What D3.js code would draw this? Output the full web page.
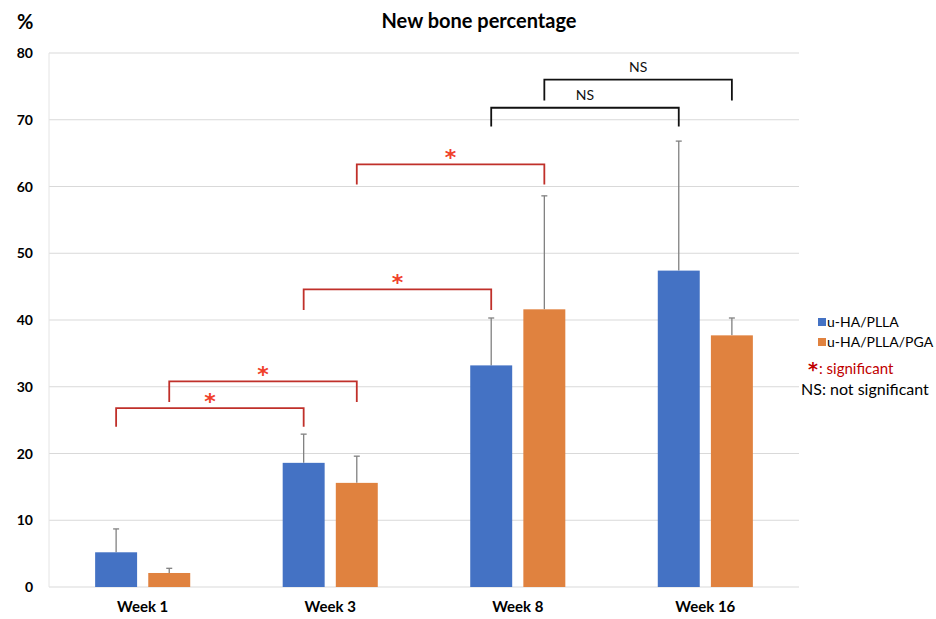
<!DOCTYPE html>
<html>
<head>
<meta charset="utf-8">
<script src="https://cdn.jsdelivr.net/npm/d3@7"></script>
<style>
  body { margin: 0; background: #fff; }
  svg { display: block; font-family: Lato, "Open Sans", sans-serif; }
</style>
</head>
<body>
<svg id="chart" width="936" height="619"></svg>
<script>
// data
const weeks = ["Week 1", "Week 3", "Week 8", "Week 16"]
const groups = ["u-HA/PLLA", "u-HA/PLLA/PGA"]
const plla = [5.2, 18.6, 33.2, 47.4]
const pllaErr = [8.7, 22.9, 40.3, 66.8]   // top of error bar
const pga = [2.1, 15.6, 41.6, 37.7]
const pgaErr = [2.8, 19.6, 58.6, 40.3]
const yTicks = [0, 10, 20, 30, 40, 50, 60, 70, 80]

// comparison brackets: [week, group] -> [week, group], top value, leg end value, label
const brackets = [
  { from: [0, 0], to: [1, 0], top: 26.8, end: 24.0, label: "*" },
  { from: [0, 1], to: [1, 1], top: 30.8, end: 27.7, label: "*" },
  { from: [1, 0], to: [2, 0], top: 44.6, end: 41.5, label: "*" },
  { from: [1, 1], to: [2, 1], top: 63.3, end: 60.3, label: "*" },
  { from: [2, 0], to: [3, 0], top: 71.8, end: 69.0, label: "NS" },
  { from: [2, 1], to: [3, 1], top: 76.0, end: 72.9, label: "NS" }
]

const colors = ["#4472C4", "#E0823F"]
const red = "#C0302A"

const svg = d3.select("#chart")
const margin = { left: 49, right: 799, top: 53, bottom: 587 }

const x0 = d3.scaleBand()
  .domain(weeks)
  .range([margin.left, margin.right])
  .paddingInner(0.493)
  .paddingOuter(0.246)

const x1 = d3.scaleBand()
  .domain(groups)
  .range([0, x0.bandwidth()])
  .paddingInner(0.21)

const y = d3.scaleLinear().domain([0, 80]).range([margin.bottom, margin.top])

const cx = (w, g) => x0(weeks[w]) + x1(groups[g]) + x1.bandwidth() / 2

// gridlines
svg.append("g")
  .selectAll("line")
  .data(yTicks)
  .join("line")
    .attr("x1", margin.left)
    .attr("x2", margin.right)
    .attr("y1", d => y(d))
    .attr("y2", d => y(d))
    .attr("stroke", "#d9d9d9")
    .attr("stroke-width", 1)

svg.append("line")
  .attr("x1", margin.left).attr("x2", margin.left)
  .attr("y1", margin.top).attr("y2", margin.bottom)
  .attr("stroke", "#e4e4e4")

// y tick labels
svg.append("g")
  .selectAll("text")
  .data(yTicks)
  .join("text")
    .attr("x", 33)
    .attr("y", d => y(d) + 5)
    .attr("text-anchor", "end")
    .attr("font-size", 14)
    .attr("font-weight", "bold")
    .attr("fill", "#000")
    .text(d => d)

svg.append("text")
  .attr("x", 17).attr("y", 29)
  .attr("font-size", 20).attr("font-weight", "bold")
  .text("%")

svg.append("text")
  .attr("x", 479).attr("y", 28)
  .attr("text-anchor", "middle")
  .attr("font-size", 20).attr("font-weight", "bold")
  .text("New bone percentage")

// x labels
svg.append("g")
  .selectAll("text")
  .data(weeks)
  .join("text")
    .attr("x", d => x0(d) + x0.bandwidth() / 2)
    .attr("y", 612)
    .attr("text-anchor", "middle")
    .attr("font-size", 15)
    .attr("font-weight", "bold")
    .text(d => d)

// bars + error bars
const series = [
  { vals: plla, errs: pllaErr },
  { vals: pga, errs: pgaErr }
]

series.forEach((s, gi) => {
  const g = svg.append("g")
  g.selectAll(".err")
    .data(s.vals)
    .join("g")
    .each(function(d, i) {
      const xc = cx(i, gi)
      const e = d3.select(this)
      e.append("line")
        .attr("x1", xc).attr("x2", xc)
        .attr("y1", y(d)).attr("y2", y(s.errs[i]))
        .attr("stroke", "#808080").attr("stroke-width", 1.3)
      e.append("line")
        .attr("x1", xc - 3).attr("x2", xc + 3)
        .attr("y1", y(s.errs[i])).attr("y2", y(s.errs[i]))
        .attr("stroke", "#808080").attr("stroke-width", 1.3)
    })
  g.selectAll("rect")
    .data(s.vals)
    .join("rect")
      .attr("x", (d, i) => x0(weeks[i]) + x1(groups[gi]))
      .attr("width", x1.bandwidth())
      .attr("y", d => y(d))
      .attr("height", d => y(0) - y(d))
      .attr("fill", colors[gi])
})

// brackets
const bg = svg.append("g")
brackets.forEach(b => {
  const xa = cx(b.from[0], b.from[1])
  const xb = cx(b.to[0], b.to[1])
  const ns = b.label === "NS"
  const col = ns ? "#111" : red
  bg.append("path")
    .attr("d", `M${xa},${y(b.end)}V${y(b.top)}H${xb}V${y(b.end)}`)
    .attr("fill", "none")
    .attr("stroke", col)
    .attr("stroke-width", 1.8)
  bg.append("text")
    .attr("x", (xa + xb) / 2)
    .attr("y", ns ? y(b.top) - 8 : y(b.top) + 1)
    .attr("text-anchor", "middle")
    .attr("font-family", ns ? null : "DejaVu Sans")
    .attr("font-size", ns ? 14 : 22)
    .attr("font-weight", ns ? "normal" : "bold")
    .attr("fill", ns ? "#111" : "#F0402A")
    .text(b.label)
})

// legend
const lg = svg.append("g").attr("font-size", 14)
groups.forEach((name, i) => {
  lg.append("rect")
    .attr("x", 818).attr("y", 318 + i * 20)
    .attr("width", 8).attr("height", 8)
    .attr("fill", colors[i])
  lg.append("text")
    .attr("x", 827).attr("y", 327 + i * 20)
    .attr("font-size", 14)
    .text(name)
})
lg.append("text")
  .attr("x", 808).attr("y", 376)
  .attr("font-family", "DejaVu Sans").attr("font-size", 19).attr("font-weight", "bold")
  .attr("fill", "#C00000")
  .text("*")
lg.append("text")
  .attr("x", 819).attr("y", 374)
  .attr("font-size", 15).attr("fill", "#C00000")
  .text(": significant")
lg.append("text").attr("x", 801).attr("y", 395).attr("font-size", 16).text("NS: not significant")
</script>
</body>
</html>
